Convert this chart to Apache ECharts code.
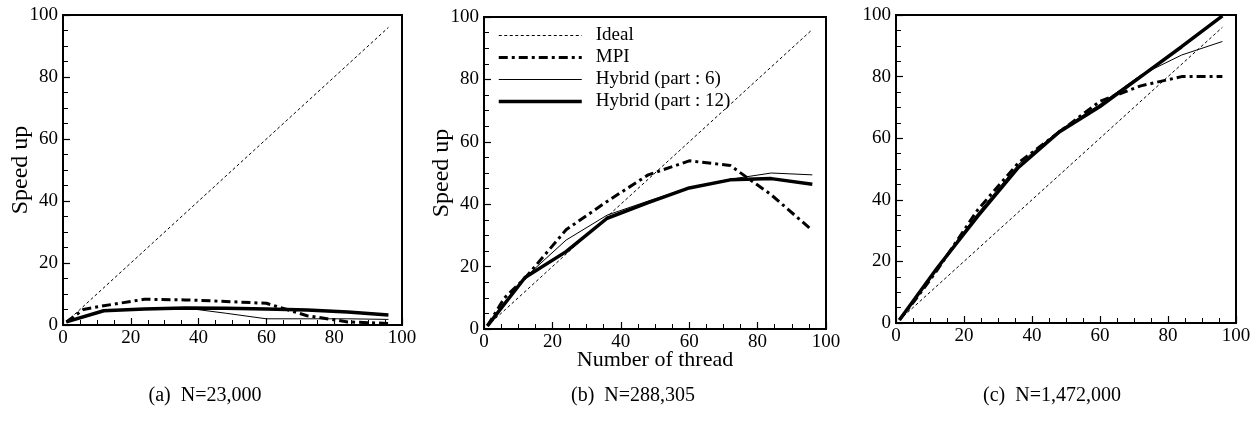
<!DOCTYPE html>
<html>
<head>
<meta charset="utf-8">
<script src="https://cdn.jsdelivr.net/npm/echarts@6/dist/echarts.min.js"></script>
<style>
html,body{margin:0;padding:0;background:#fff;}
#chart{width:1259px;height:422px;}
</style>
</head>
<body>
<div id="chart"></div>
<script>
// ---- data ----
const idealX = [1, 96];
const idealY = [1, 96];
const mpiX = [1, 6, 12, 24, 36, 48, 60, 72, 84, 96];
const hybX = [1, 12, 24, 36, 48, 60, 72, 84, 96];

const mpiA   = [1, 5, 6.2, 8.3, 8.1, 7.6, 7.0, 3.0, 1.0, 0.5];
const hyb6A  = [1, 4.5, 5.2, 5.5, 3.8, 2.0, 2.0, 2.0, 1.8];
const hyb12A = [1, 4.6, 5.2, 5.5, 5.4, 5.2, 4.8, 4.2, 3.2];

const mpiB   = [1, 10, 16.3, 31.8, 40.9, 49.4, 53.9, 52.4, 43, 31.6];
const hyb6B  = [1, 16.5, 28.5, 36.5, 41, 45.3, 48, 50, 49.4];
const hyb12B = [1, 16.5, 24.8, 35.5, 40.5, 45.2, 47.8, 48.2, 46.4];

const mpiC   = [1, 8, 17, 36.7, 52, 62, 72, 77, 80, 80];
const hyb6C  = [1, 18, 35.5, 51.5, 62.5, 71, 80.5, 87, 91.4];
const hyb12C = [1, 17.7, 34.6, 50.5, 62, 70.3, 80, 89.7, 99.7];

const xTicks = [0, 20, 40, 60, 80, 100];
const yTicks = [0, 20, 40, 60, 80, 100];
const seriesNames = ['Ideal', 'MPI', 'Hybrid (part : 6)', 'Hybrid (part : 12)'];
const captions = ['(a)  N=23,000', '(b)  N=288,305', '(c)  N=1,472,000'];
const yName = 'Speed up';
const xName = 'Number of thread';

// ---- build ----
const FONT = '"Liberation Serif", "Times New Roman", serif';
const zip = (xs, ys) => xs.map((x, i) => [x, ys[i]]);
const panels = [
  {mpi: mpiA, h6: hyb6A, h12: hyb12A},
  {mpi: mpiB, h6: hyb6B, h12: hyb12B},
  {mpi: mpiC, h6: hyb6C, h12: hyb12C}
];
const grids = [
  {left: 63, top: 15, width: 339, height: 310},
  {left: 484, top: 17, width: 342, height: 312},
  {left: 896, top: 15, width: 340, height: 308}
];
const styles = [
  {color: '#000', width: 1, type: [3, 2.5]},
  {color: '#000', width: 3, type: [9, 4, 3, 4], cap: 'butt'},
  {color: '#000', width: 1, type: 'solid'},
  {color: '#000', width: 3.5, type: 'solid'}
];

const labelStyle = {color: '#000', fontFamily: FONT, fontSize: 19};
function mkAxis(type, i) {
  const isX = type === 'x';
  const ticks = isX ? xTicks : yTicks;
  const ax = {
    type: 'value', gridIndex: i,
    min: ticks[0], max: ticks[ticks.length - 1], interval: ticks[1] - ticks[0],
    axisLine: {show: true, onZero: false, lineStyle: {color: '#000', width: 2}},
    axisTick: {show: true, inside: true, length: 7, lineStyle: {color: '#000', width: 1.2}},
    minorTick: {show: true, splitNumber: 4, length: 5, lineStyle: {color: '#000', width: 1}},
    splitLine: {show: false},
    axisLabel: Object.assign({margin: isX ? 4 : 5}, labelStyle),
    nameMoveOverlap: false
  };
  if (!isX) {
    if (i < 2) {
      ax.name = yName; ax.nameLocation = 'middle'; ax.nameGap = 30;
      ax.nameTextStyle = {color: '#000', fontFamily: FONT, fontSize: 24};
    }
  } else if (i === 1) {
    ax.name = xName; ax.nameLocation = 'middle'; ax.nameGap = 20;
    ax.nameTextStyle = {color: '#000', fontFamily: FONT, fontSize: 22};
  }
  return ax;
}

const series = [];
panels.forEach((p, i) => {
  const base = {type: 'line', xAxisIndex: i, yAxisIndex: i, symbol: 'none', silent: true,
    animation: false, itemStyle: {color: '#000'}};
  const sets = [zip(idealX, idealY), zip(mpiX, p.mpi), zip(hybX, p.h6), zip(hybX, p.h12)];
  sets.forEach((d, k) => {
    series.push(Object.assign({}, base, {name: seriesNames[k], data: d, z: 2 + k, lineStyle: styles[k]}));
  });
});

const option = {
  backgroundColor: '#fff',
  animation: false,
  grid: grids.map(g => Object.assign({show: true, borderColor: '#000', borderWidth: 2, backgroundColor: 'transparent'}, g)),
  xAxis: [0, 1, 2].map(i => mkAxis('x', i)),
  yAxis: [0, 1, 2].map(i => mkAxis('y', i)),
  legend: {
    orient: 'vertical', left: 497, top: 26, padding: 0,
    itemWidth: 83, itemHeight: 14, itemGap: 3,
    itemStyle: {opacity: 0, color: 'transparent', borderWidth: 0},
    data: seriesNames.map((n, k) => ({name: n, lineStyle: styles[k], itemStyle: {opacity: 0, color: 'transparent', borderWidth: 0}})),
    textStyle: {color: '#000', fontFamily: FONT, fontSize: 19, padding: [0, 0, 0, 9], lineHeight: 19},
    selectedMode: false
  },
  graphic: captions.map((t, i) => ({
    type: 'text', x: [205, 633, 1052][i], y: 396,
    style: {text: t, fill: '#000', font: '20px ' + FONT, align: 'center', verticalAlign: 'middle'}
  })),
  series: series
};
const chart = echarts.init(document.getElementById('chart'), null, {renderer: 'canvas'});
chart.setOption(option);
</script>
</body>
</html>
